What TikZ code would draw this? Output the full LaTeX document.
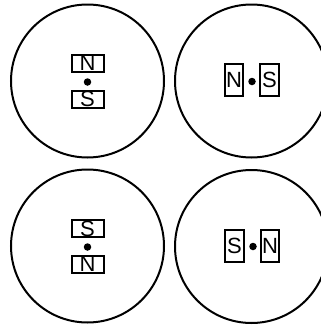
\documentclass[tikz,border=0pt]{standalone}
\usepackage{fontspec}
\setmainfont{Liberation Sans}

\begin{document}
\begin{tikzpicture}[x=1pt, y=-1pt,
  ring/.style={circle, draw=black, line width=2pt,
               minimum size=153pt, inner sep=0pt},
  wide/.style={rectangle, draw=black, line width=2pt,
               minimum width=32pt, minimum height=17pt, inner sep=0pt,
               text height=15.5pt, text depth=0pt,
               font=\fontsize{22}{22}\selectfont},
  tall/.style={wide, minimum width=18.5pt, minimum height=32pt},
  pivot/.style={circle, fill=black, inner sep=0pt, minimum size=7.5pt}
]
\useasboundingbox (0,0) rectangle (321,327);
%% Circles
\node[ring] (tl) at (87.5, 81) {};
\node[ring] (tr) at (251.5, 81) {};
\node[ring] (bl) at (87.5, 246) {};
\node[ring] (br) at (251.5, 246.5) {};
%% Top left: N above S
\node[wide]  (tlN) at (87.5, 63) {N};
\node[pivot] (tlc) at (87.5, 82) {};
\node[wide]  (tlS) at (87.5, 99) {S};
%% Top right: N left of S
\node[tall]  (trN) at (234, 80) {N};
\node[pivot] (trc) at (252, 81.5) {};
\node[tall]  (trS) at (269.5, 80) {S};
%% Bottom left: S above N
\node[wide]  (blS) at (87.5, 228.5) {S};
\node[pivot] (blc) at (87.5, 247) {};
\node[wide]  (blN) at (87.5, 264) {N};
%% Bottom right: S left of N
\node[tall]  (brS) at (234.5, 246) {S};
\node[pivot] (brc) at (253, 246.5) {};
\node[tall]  (brN) at (270, 246) {N};
\end{tikzpicture}
\end{document}
